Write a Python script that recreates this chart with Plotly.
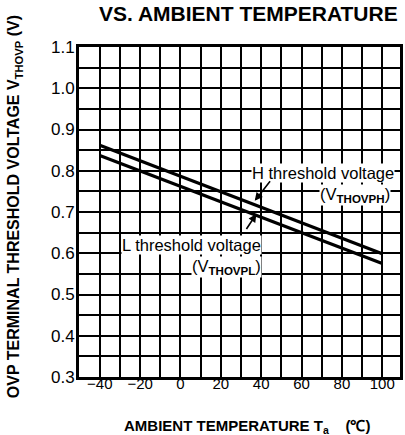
import plotly.graph_objects as go

# Data
temperature = [-40, 100]
v_thovph = [0.862, 0.599]   # H threshold voltage
v_thovpl = [0.837, 0.575]   # L threshold voltage

x_tick_vals = [-40, -20, 0, 20, 40, 60, 80, 100]
x_tick_text = ["\u221240", "\u221220", "0", "20", "40", "60", "80", "100"]
y_tick_vals = [0.3, 0.4, 0.5, 0.6, 0.7, 0.8, 0.9, 1.0, 1.1]
y_tick_text = ["0.3", "0.4", "0.5", "0.6", "0.7", "0.8", "0.9", "1.0", "1.1"]

FONT = "Liberation Sans, Arial, sans-serif"

fig = go.Figure()
fig.add_trace(go.Scatter(x=temperature, y=v_thovph, mode="lines",
                         line=dict(color="black", width=3.2), showlegend=False))
fig.add_trace(go.Scatter(x=temperature, y=v_thovpl, mode="lines",
                         line=dict(color="black", width=3.2), showlegend=False))

annotations = [
    dict(text="<b>VS. AMBIENT TEMPERATURE</b>", xref="paper", yref="paper",
         x=0.528, y=1.102, xanchor="center", yanchor="middle", showarrow=False,
         font=dict(family=FONT, size=21, color="black")),
    dict(text="<b>OVP TERMINAL THRESHOLD VOLTAGE V<sub>THOVP</sub> (V)</b>",
         xref="paper", yref="paper", x=-0.2, y=0.517, textangle=-90,
         xanchor="center", yanchor="middle", showarrow=False,
         font=dict(family=FONT, size=16, color="black")),
    dict(text="<b>AMBIENT TEMPERATURE T<sub>a</sub>&nbsp;&nbsp;&nbsp;&nbsp;(\u2103)</b>",
         xref="paper", yref="paper", x=0.522, y=-0.15,
         xanchor="center", yanchor="middle", showarrow=False,
         font=dict(family=FONT, size=15, color="black")),
    dict(text="H threshold voltage", x=70.5, y=0.794, xref="x", yref="y",
         showarrow=False, bgcolor="white", borderpad=0,
         font=dict(family=FONT, size=16.5, color="black")),
    dict(text="(V<sub><b>THOVPH</b></sub>)", x=86.7, y=0.742, xref="x", yref="y",
         showarrow=False, bgcolor="white", borderpad=0,
         font=dict(family=FONT, size=16.5, color="black")),
    dict(text="L threshold voltage", x=5.7, y=0.619, xref="x", yref="y",
         showarrow=False, bgcolor="white", borderpad=0,
         font=dict(family=FONT, size=16.5, color="black")),
    dict(text="(V<sub><b>THOVPL</b></sub>)", x=22.6, y=0.567, xref="x", yref="y",
         showarrow=False, bgcolor="white", borderpad=0,
         font=dict(family=FONT, size=16.5, color="black")),
    # arrows
    dict(text="", x=36.8, y=0.727, xref="x", yref="y", ax=45, ay=0.778,
         axref="x", ayref="y", showarrow=True, arrowhead=2, arrowsize=1,
         arrowwidth=1.6, arrowcolor="black"),
    dict(text="", x=37.6, y=0.695, xref="x", yref="y", ax=32.2, ay=0.655,
         axref="x", ayref="y", showarrow=True, arrowhead=2, arrowsize=1,
         arrowwidth=1.6, arrowcolor="black"),
]

fig.update_layout(
    width=405, height=435,
    margin=dict(l=79, r=2, t=47, b=58),
    paper_bgcolor="white", plot_bgcolor="white",
    annotations=annotations,
    font=dict(family=FONT, color="black"),
)

fig.update_xaxes(
    range=[-50.3, 108.8], tickvals=x_tick_vals, ticktext=x_tick_text,
    showgrid=True, gridcolor="black", gridwidth=1.8,
    minor=dict(dtick=10, tick0=0, showgrid=True, gridcolor="black", gridwidth=1.8),
    showline=True, linecolor="black", linewidth=3, mirror=True,
    ticks="", zeroline=False, ticklabelstandoff=-9,
    tickfont=dict(family=FONT, size=15, color="black"),
)
fig.update_yaxes(
    range=[0.3, 1.1], tickvals=y_tick_vals, ticktext=y_tick_text,
    showgrid=True, gridcolor="black", gridwidth=1.8,
    minor=dict(dtick=0.05, tick0=0, showgrid=True, gridcolor="black", gridwidth=1.8),
    showline=True, linecolor="black", linewidth=3, mirror=True,
    ticks="", zeroline=False, ticklabelstandoff=-2,
    tickfont=dict(family=FONT, size=17, color="black"),
)

fig.write_html("out.html", config={"displayModeBar": False},
               post_script="document.body.style.margin='0';")
